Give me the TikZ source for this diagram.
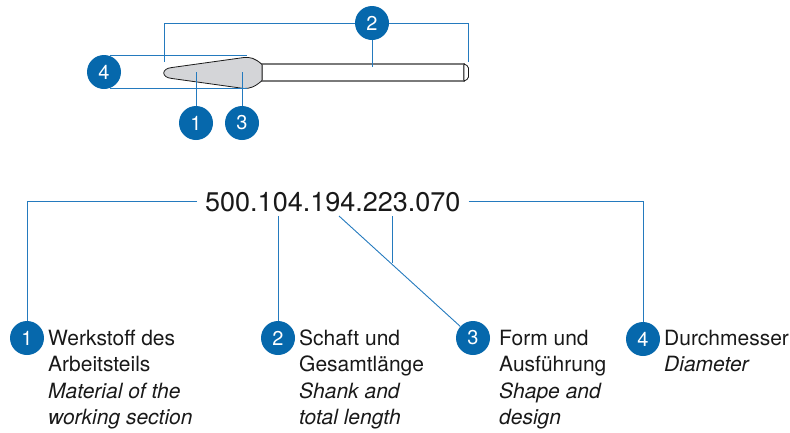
\documentclass[tikz,border=0pt]{standalone}
\usepackage{fontspec}
\setmainfont{TeX Gyre Heros}
\usepackage{xcolor}
\definecolor{badge}{RGB}{6,104,172}
\definecolor{leader}{RGB}{36,122,190}
\definecolor{ink}{RGB}{25,25,25}
\definecolor{headgray}{RGB}{212,213,216}
\definecolor{shankgray}{RGB}{122,122,122}

\begin{document}
\begin{tikzpicture}[x=1pt,y=-1pt,
  num/.style={circle,fill=badge,text=white,minimum size=34pt,inner sep=0pt,font=\fontsize{20}{20}\selectfont},
  conn/.style={draw=leader,line width=0.9pt},
  lbl/.style={anchor=base west,inner sep=0pt,text=ink,font=\fontsize{21}{26.5}\selectfont}]
\useasboundingbox (0,0) rectangle (790,432);
% bur
\draw[shankgray,line width=1.6pt,fill=white] (262,64) rectangle (464,81);
\draw[ink,line width=0.8pt,fill=white] (464,64) -- (467,65.5) -- (468.5,68) -- (468.5,77) -- (467,79.5) -- (464,81) -- cycle;
\draw[ink,line width=0.8pt,fill=headgray] (172,67.5) -- (244,57.5) .. controls (250,57) and (255,58) .. (262,64.5)
   -- (262,80.5) .. controls (255,87) and (250,88.5) .. (244,88.5) -- (172,78.5) .. controls (161,77.5) and (161,68.5) .. (172,67.5);
\node[num] (n2) at (372,23) {2};
\node[num] (n4) at (104,72) {4};
\node[num] (n1) at (196,123) {1};
\node[num] (n3) at (242,123) {3};
\coordinate (shankL) at (164,62);
\coordinate (shankR) at (468,62);
\coordinate (shankM) at (372,67);
\coordinate (diaT) at (247,56);
\coordinate (diaB) at (247,88.5);
\coordinate (mat) at (196,72);
\coordinate (form) at (242,72);
\draw[conn] (shankL) -- (shankL |- n2) -- (n2.west);
\draw[conn] (n2.east) -- (shankR |- n2) -- (shankR);
\draw[conn] (n2.south) -- (shankM);
\draw[conn] (n4.70) -- (n4.70 -| diaT);
\draw[conn] (n4.-70) -- (n4.-70 -| diaB);
\draw[conn] (n1.north) -- (mat);
\draw[conn] (n3.north) -- (form);
% code
\node[anchor=base west,inner xsep=8pt,inner ysep=4pt,text=ink,font=\fontsize{27}{27}\selectfont] (code) at (197,211) {500.104.194.223.070};
\node[num] (b1) at (27,338) {1};
\node[num] (b2) at (278,338) {2};
\node[num] (b3) at (473,338) {3};
\node[num] (b4) at (643,339) {4};
\coordinate (d3) at (339,216);
\coordinate (v3) at (392,216);
\coordinate (j3) at (392,263);
\draw[conn] (code.west) -| (b1.north);
\draw[conn] (code.east) -| (b4.north);
\draw[conn] (b2.north) -- (b2 |- code.south);
\draw[conn] (d3) -- (b3);
\draw[conn] (v3) -- (j3);
\node[lbl] (t1) at (48,345) {\begin{tabular}[t]{@{}l@{}}Werkstoff des\\Arbeitsteils\\\itshape Material of the\\\itshape working section\end{tabular}};
\node[lbl] (t2) at (299,345) {\begin{tabular}[t]{@{}l@{}}Schaft und\\Gesamtlänge\\\itshape Shank and\\\itshape total length\end{tabular}};
\node[lbl] (t3) at (499,345) {\begin{tabular}[t]{@{}l@{}}Form und\\Ausführung\\\itshape Shape and\\\itshape design\end{tabular}};
\node[lbl] (t4) at (664,345) {\begin{tabular}[t]{@{}l@{}}Durchmesser\\\itshape Diameter\end{tabular}};
\end{tikzpicture}
\end{document}
